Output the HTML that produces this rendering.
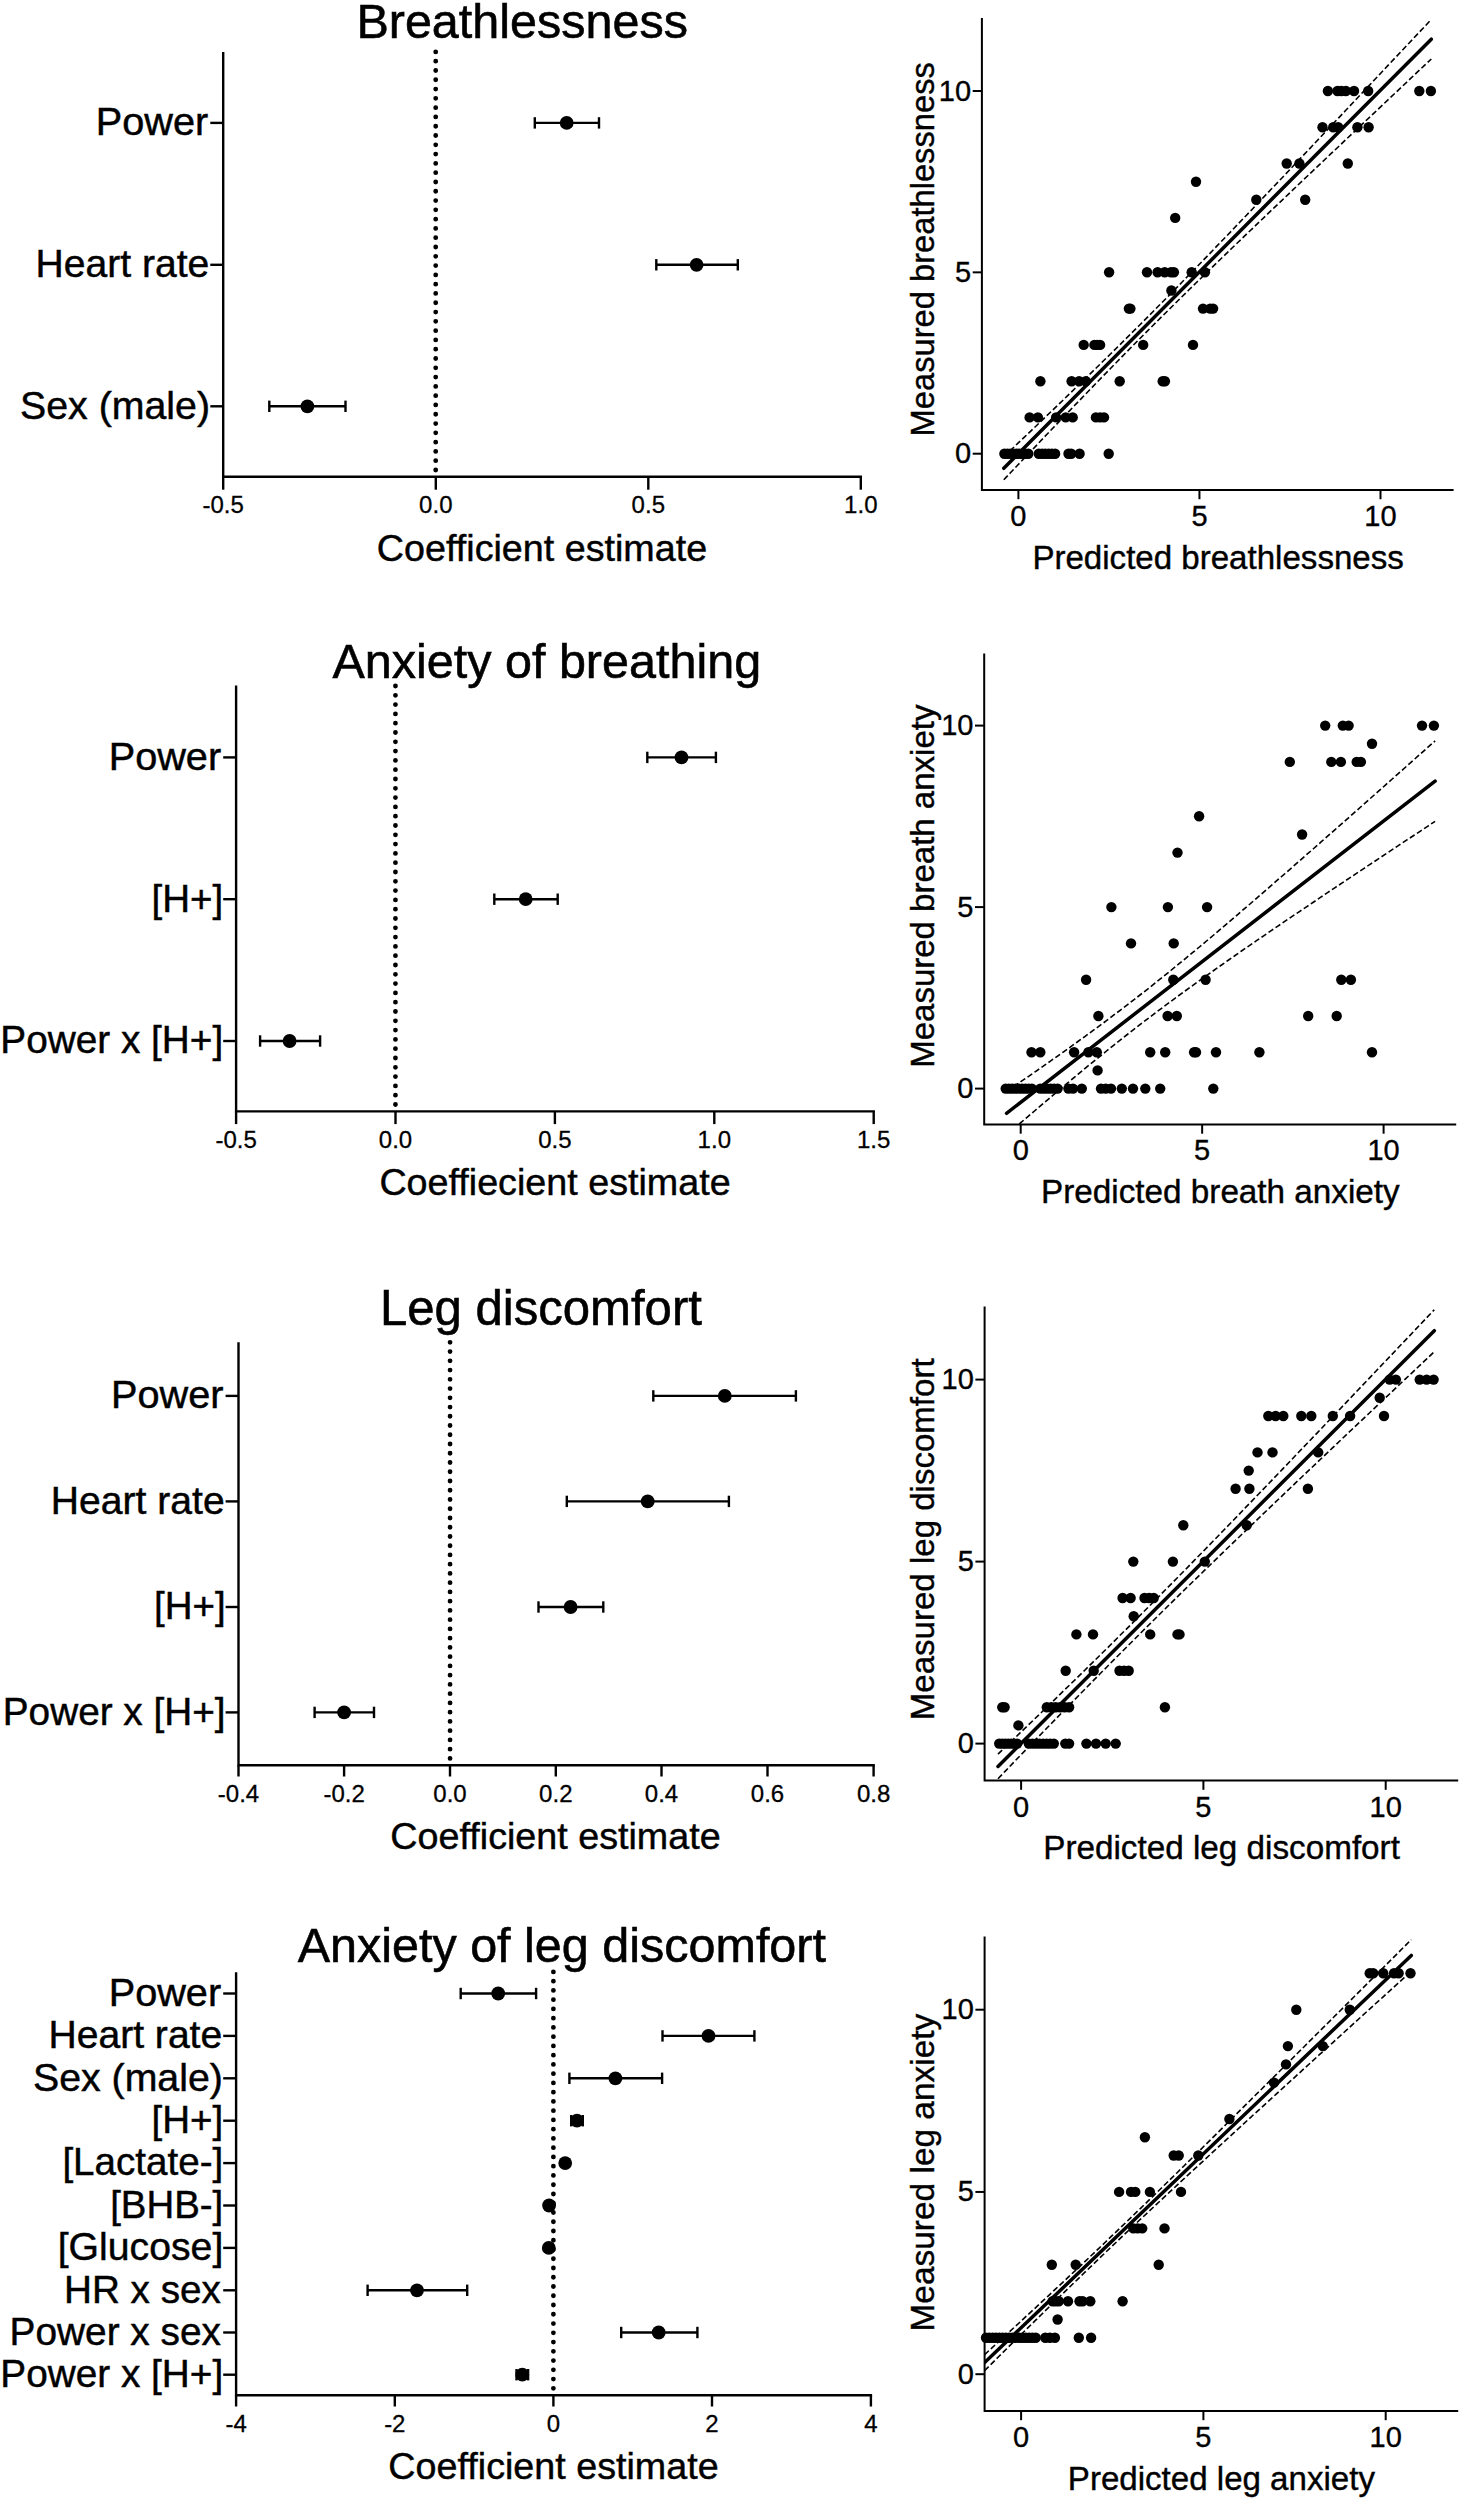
<!DOCTYPE html>
<html lang="en"><head><meta charset="utf-8"><title>Figure</title>
<style>
html,body{margin:0;padding:0;background:#fff;}
body{width:1462px;height:2500px;overflow:hidden;}
svg{display:block;font-family:'Liberation Sans', sans-serif;fill:#000;}
</style></head><body>
<svg width="1462" height="2500" viewBox="0 0 1462 2500">
<rect width="1462" height="2500" fill="#fff"/>
<g>
<text x="522.20" y="38.20" font-size="48.5" text-anchor="middle" stroke="#000" stroke-width="0.58" >Breathlessness</text>
<path d="M223.20 52.00V476.80H862.00" fill="none" stroke="#000" stroke-width="2.4" stroke-linejoin="miter"/>
<line x1="223.20" y1="476.80" x2="223.20" y2="489.70" stroke="#000" stroke-width="2.4" />
<text x="223.20" y="513.10" font-size="24" text-anchor="middle" stroke="#000" stroke-width="0.29" >-0.5</text>
<line x1="435.80" y1="476.80" x2="435.80" y2="489.70" stroke="#000" stroke-width="2.4" />
<text x="435.80" y="513.10" font-size="24" text-anchor="middle" stroke="#000" stroke-width="0.29" >0.0</text>
<line x1="648.30" y1="476.80" x2="648.30" y2="489.70" stroke="#000" stroke-width="2.4" />
<text x="648.30" y="513.10" font-size="24" text-anchor="middle" stroke="#000" stroke-width="0.29" >0.5</text>
<line x1="860.80" y1="476.80" x2="860.80" y2="489.70" stroke="#000" stroke-width="2.4" />
<text x="860.80" y="513.10" font-size="24" text-anchor="middle" stroke="#000" stroke-width="0.29" >1.0</text>
<text x="542.00" y="560.80" font-size="37.7" text-anchor="middle" stroke="#000" stroke-width="0.45" >Coefficient estimate</text>
<line x1="435.70" y1="51.90" x2="435.70" y2="471.00" stroke="#000" stroke-width="4.8" stroke-linecap="round" stroke-dasharray="0 9.2911"/>
<line x1="210.30" y1="122.90" x2="223.20" y2="122.90" stroke="#000" stroke-width="2.4" />
<text x="208.26" y="135.20" font-size="39.7" text-anchor="end" stroke="#000" stroke-width="0.48" >Power</text>
<line x1="534.80" y1="122.90" x2="599.00" y2="122.90" stroke="#000" stroke-width="2.4" />
<line x1="534.80" y1="117.20" x2="534.80" y2="128.60" stroke="#000" stroke-width="2.4" />
<line x1="599.00" y1="117.20" x2="599.00" y2="128.60" stroke="#000" stroke-width="2.4" />
<circle cx="566.70" cy="122.90" r="6.9"/>
<line x1="210.30" y1="264.80" x2="223.20" y2="264.80" stroke="#000" stroke-width="2.4" />
<text x="209.33" y="277.10" font-size="39.1" text-anchor="end" stroke="#000" stroke-width="0.47" >Heart rate</text>
<line x1="656.30" y1="264.80" x2="737.80" y2="264.80" stroke="#000" stroke-width="2.4" />
<line x1="656.30" y1="259.10" x2="656.30" y2="270.50" stroke="#000" stroke-width="2.4" />
<line x1="737.80" y1="259.10" x2="737.80" y2="270.50" stroke="#000" stroke-width="2.4" />
<circle cx="696.60" cy="264.80" r="6.9"/>
<line x1="210.30" y1="406.30" x2="223.20" y2="406.30" stroke="#000" stroke-width="2.4" />
<text x="210.02" y="418.60" font-size="39.3" text-anchor="end" stroke="#000" stroke-width="0.47" >Sex (male)</text>
<line x1="269.30" y1="406.30" x2="345.50" y2="406.30" stroke="#000" stroke-width="2.4" />
<line x1="269.30" y1="400.60" x2="269.30" y2="412.00" stroke="#000" stroke-width="2.4" />
<line x1="345.50" y1="400.60" x2="345.50" y2="412.00" stroke="#000" stroke-width="2.4" />
<circle cx="307.40" cy="406.30" r="6.9"/>
</g>
<g>
<text x="546.80" y="677.90" font-size="48.5" text-anchor="middle" stroke="#000" stroke-width="0.58" >Anxiety of breathing</text>
<path d="M236.10 685.60V1111.40H874.90" fill="none" stroke="#000" stroke-width="2.4" stroke-linejoin="miter"/>
<line x1="236.10" y1="1111.40" x2="236.10" y2="1124.10" stroke="#000" stroke-width="2.4" />
<text x="236.10" y="1147.70" font-size="24" text-anchor="middle" stroke="#000" stroke-width="0.29" >-0.5</text>
<line x1="395.50" y1="1111.40" x2="395.50" y2="1124.10" stroke="#000" stroke-width="2.4" />
<text x="395.50" y="1147.70" font-size="24" text-anchor="middle" stroke="#000" stroke-width="0.29" >0.0</text>
<line x1="554.90" y1="1111.40" x2="554.90" y2="1124.10" stroke="#000" stroke-width="2.4" />
<text x="554.90" y="1147.70" font-size="24" text-anchor="middle" stroke="#000" stroke-width="0.29" >0.5</text>
<line x1="714.30" y1="1111.40" x2="714.30" y2="1124.10" stroke="#000" stroke-width="2.4" />
<text x="714.30" y="1147.70" font-size="24" text-anchor="middle" stroke="#000" stroke-width="0.29" >1.0</text>
<line x1="873.70" y1="1111.40" x2="873.70" y2="1124.10" stroke="#000" stroke-width="2.4" />
<text x="873.70" y="1147.70" font-size="24" text-anchor="middle" stroke="#000" stroke-width="0.29" >1.5</text>
<text x="555.00" y="1195.40" font-size="37.7" text-anchor="middle" stroke="#000" stroke-width="0.45" >Coeffiecient estimate</text>
<line x1="395.45" y1="686.00" x2="395.45" y2="1105.50" stroke="#000" stroke-width="4.8" stroke-linecap="round" stroke-dasharray="0 9.3000"/>
<line x1="223.20" y1="757.40" x2="236.10" y2="757.40" stroke="#000" stroke-width="2.4" />
<text x="221.16" y="769.70" font-size="39.7" text-anchor="end" stroke="#000" stroke-width="0.48" >Power</text>
<line x1="647.30" y1="757.40" x2="715.90" y2="757.40" stroke="#000" stroke-width="2.4" />
<line x1="647.30" y1="751.70" x2="647.30" y2="763.10" stroke="#000" stroke-width="2.4" />
<line x1="715.90" y1="751.70" x2="715.90" y2="763.10" stroke="#000" stroke-width="2.4" />
<circle cx="681.50" cy="757.40" r="6.9"/>
<line x1="223.20" y1="899.20" x2="236.10" y2="899.20" stroke="#000" stroke-width="2.4" />
<text x="223.23" y="911.50" font-size="38.5" text-anchor="end" stroke="#000" stroke-width="0.46" >[H+]</text>
<line x1="494.30" y1="899.20" x2="557.70" y2="899.20" stroke="#000" stroke-width="2.4" />
<line x1="494.30" y1="893.50" x2="494.30" y2="904.90" stroke="#000" stroke-width="2.4" />
<line x1="557.70" y1="893.50" x2="557.70" y2="904.90" stroke="#000" stroke-width="2.4" />
<circle cx="525.70" cy="899.20" r="6.9"/>
<line x1="223.20" y1="1041.00" x2="236.10" y2="1041.00" stroke="#000" stroke-width="2.4" />
<text x="223.25" y="1053.30" font-size="38.75" text-anchor="end" stroke="#000" stroke-width="0.47" >Power x [H+]</text>
<line x1="260.10" y1="1041.00" x2="320.10" y2="1041.00" stroke="#000" stroke-width="2.4" />
<line x1="260.10" y1="1035.30" x2="260.10" y2="1046.70" stroke="#000" stroke-width="2.4" />
<line x1="320.10" y1="1035.30" x2="320.10" y2="1046.70" stroke="#000" stroke-width="2.4" />
<circle cx="289.60" cy="1041.00" r="6.9"/>
</g>
<g>
<text x="540.90" y="1325.40" font-size="49.1" text-anchor="middle" stroke="#000" stroke-width="0.59" >Leg discomfort</text>
<path d="M238.50 1342.30V1765.20H874.80" fill="none" stroke="#000" stroke-width="2.4" stroke-linejoin="miter"/>
<line x1="238.50" y1="1765.20" x2="238.50" y2="1776.50" stroke="#000" stroke-width="2.4" />
<text x="238.50" y="1801.50" font-size="24" text-anchor="middle" stroke="#000" stroke-width="0.29" >-0.4</text>
<line x1="344.10" y1="1765.20" x2="344.10" y2="1776.50" stroke="#000" stroke-width="2.4" />
<text x="344.10" y="1801.50" font-size="24" text-anchor="middle" stroke="#000" stroke-width="0.29" >-0.2</text>
<line x1="450.00" y1="1765.20" x2="450.00" y2="1776.50" stroke="#000" stroke-width="2.4" />
<text x="450.00" y="1801.50" font-size="24" text-anchor="middle" stroke="#000" stroke-width="0.29" >0.0</text>
<line x1="555.80" y1="1765.20" x2="555.80" y2="1776.50" stroke="#000" stroke-width="2.4" />
<text x="555.80" y="1801.50" font-size="24" text-anchor="middle" stroke="#000" stroke-width="0.29" >0.2</text>
<line x1="661.50" y1="1765.20" x2="661.50" y2="1776.50" stroke="#000" stroke-width="2.4" />
<text x="661.50" y="1801.50" font-size="24" text-anchor="middle" stroke="#000" stroke-width="0.29" >0.4</text>
<line x1="767.50" y1="1765.20" x2="767.50" y2="1776.50" stroke="#000" stroke-width="2.4" />
<text x="767.50" y="1801.50" font-size="24" text-anchor="middle" stroke="#000" stroke-width="0.29" >0.6</text>
<line x1="873.60" y1="1765.20" x2="873.60" y2="1776.50" stroke="#000" stroke-width="2.4" />
<text x="873.60" y="1801.50" font-size="24" text-anchor="middle" stroke="#000" stroke-width="0.29" >0.8</text>
<text x="555.50" y="1849.20" font-size="37.7" text-anchor="middle" stroke="#000" stroke-width="0.45" >Coefficient estimate</text>
<line x1="450.05" y1="1342.30" x2="450.05" y2="1759.40" stroke="#000" stroke-width="4.8" stroke-linecap="round" stroke-dasharray="0 9.2467"/>
<line x1="225.60" y1="1395.90" x2="238.50" y2="1395.90" stroke="#000" stroke-width="2.4" />
<text x="223.56" y="1408.20" font-size="39.7" text-anchor="end" stroke="#000" stroke-width="0.48" >Power</text>
<line x1="653.30" y1="1395.90" x2="795.90" y2="1395.90" stroke="#000" stroke-width="2.4" />
<line x1="653.30" y1="1390.20" x2="653.30" y2="1401.60" stroke="#000" stroke-width="2.4" />
<line x1="795.90" y1="1390.20" x2="795.90" y2="1401.60" stroke="#000" stroke-width="2.4" />
<circle cx="724.80" cy="1395.90" r="6.9"/>
<line x1="225.60" y1="1501.40" x2="238.50" y2="1501.40" stroke="#000" stroke-width="2.4" />
<text x="224.63" y="1513.70" font-size="39.1" text-anchor="end" stroke="#000" stroke-width="0.47" >Heart rate</text>
<line x1="566.80" y1="1501.40" x2="728.90" y2="1501.40" stroke="#000" stroke-width="2.4" />
<line x1="566.80" y1="1495.70" x2="566.80" y2="1507.10" stroke="#000" stroke-width="2.4" />
<line x1="728.90" y1="1495.70" x2="728.90" y2="1507.10" stroke="#000" stroke-width="2.4" />
<circle cx="647.70" cy="1501.40" r="6.9"/>
<line x1="225.60" y1="1607.00" x2="238.50" y2="1607.00" stroke="#000" stroke-width="2.4" />
<text x="225.63" y="1619.30" font-size="38.5" text-anchor="end" stroke="#000" stroke-width="0.46" >[H+]</text>
<line x1="538.50" y1="1607.00" x2="603.30" y2="1607.00" stroke="#000" stroke-width="2.4" />
<line x1="538.50" y1="1601.30" x2="538.50" y2="1612.70" stroke="#000" stroke-width="2.4" />
<line x1="603.30" y1="1601.30" x2="603.30" y2="1612.70" stroke="#000" stroke-width="2.4" />
<circle cx="570.60" cy="1607.00" r="6.9"/>
<line x1="225.60" y1="1712.40" x2="238.50" y2="1712.40" stroke="#000" stroke-width="2.4" />
<text x="225.65" y="1724.70" font-size="38.75" text-anchor="end" stroke="#000" stroke-width="0.47" >Power x [H+]</text>
<line x1="314.60" y1="1712.40" x2="374.00" y2="1712.40" stroke="#000" stroke-width="2.4" />
<line x1="314.60" y1="1706.70" x2="314.60" y2="1718.10" stroke="#000" stroke-width="2.4" />
<line x1="374.00" y1="1706.70" x2="374.00" y2="1718.10" stroke="#000" stroke-width="2.4" />
<circle cx="344.10" cy="1712.40" r="6.9"/>
</g>
<g>
<text x="561.80" y="1961.60" font-size="48.5" text-anchor="middle" stroke="#000" stroke-width="0.58" >Anxiety of leg discomfort</text>
<path d="M236.10 1972.30V2395.20H872.10" fill="none" stroke="#000" stroke-width="2.4" stroke-linejoin="miter"/>
<line x1="236.10" y1="2395.20" x2="236.10" y2="2406.50" stroke="#000" stroke-width="2.4" />
<text x="236.10" y="2431.50" font-size="24" text-anchor="middle" stroke="#000" stroke-width="0.29" >-4</text>
<line x1="394.80" y1="2395.20" x2="394.80" y2="2406.50" stroke="#000" stroke-width="2.4" />
<text x="394.80" y="2431.50" font-size="24" text-anchor="middle" stroke="#000" stroke-width="0.29" >-2</text>
<line x1="553.40" y1="2395.20" x2="553.40" y2="2406.50" stroke="#000" stroke-width="2.4" />
<text x="553.40" y="2431.50" font-size="24" text-anchor="middle" stroke="#000" stroke-width="0.29" >0</text>
<line x1="712.00" y1="2395.20" x2="712.00" y2="2406.50" stroke="#000" stroke-width="2.4" />
<text x="712.00" y="2431.50" font-size="24" text-anchor="middle" stroke="#000" stroke-width="0.29" >2</text>
<line x1="870.90" y1="2395.20" x2="870.90" y2="2406.50" stroke="#000" stroke-width="2.4" />
<text x="870.90" y="2431.50" font-size="24" text-anchor="middle" stroke="#000" stroke-width="0.29" >4</text>
<text x="553.50" y="2479.20" font-size="37.7" text-anchor="middle" stroke="#000" stroke-width="0.45" >Coefficient estimate</text>
<line x1="553.40" y1="1971.90" x2="553.40" y2="2389.30" stroke="#000" stroke-width="4.8" stroke-linecap="round" stroke-dasharray="0 9.2533"/>
<line x1="223.20" y1="1993.50" x2="236.10" y2="1993.50" stroke="#000" stroke-width="2.4" />
<text x="221.16" y="2005.80" font-size="39.7" text-anchor="end" stroke="#000" stroke-width="0.48" >Power</text>
<line x1="460.70" y1="1993.50" x2="536.10" y2="1993.50" stroke="#000" stroke-width="2.4" />
<line x1="460.70" y1="1987.80" x2="460.70" y2="1999.20" stroke="#000" stroke-width="2.4" />
<line x1="536.10" y1="1987.80" x2="536.10" y2="1999.20" stroke="#000" stroke-width="2.4" />
<circle cx="498.20" cy="1993.50" r="6.9"/>
<line x1="223.20" y1="2035.90" x2="236.10" y2="2035.90" stroke="#000" stroke-width="2.4" />
<text x="222.23" y="2048.20" font-size="39.1" text-anchor="end" stroke="#000" stroke-width="0.47" >Heart rate</text>
<line x1="662.50" y1="2035.90" x2="754.40" y2="2035.90" stroke="#000" stroke-width="2.4" />
<line x1="662.50" y1="2030.20" x2="662.50" y2="2041.60" stroke="#000" stroke-width="2.4" />
<line x1="754.40" y1="2030.20" x2="754.40" y2="2041.60" stroke="#000" stroke-width="2.4" />
<circle cx="708.50" cy="2035.90" r="6.9"/>
<line x1="223.20" y1="2078.30" x2="236.10" y2="2078.30" stroke="#000" stroke-width="2.4" />
<text x="222.92" y="2090.60" font-size="39.3" text-anchor="end" stroke="#000" stroke-width="0.47" >Sex (male)</text>
<line x1="569.40" y1="2078.30" x2="662.10" y2="2078.30" stroke="#000" stroke-width="2.4" />
<line x1="569.40" y1="2072.60" x2="569.40" y2="2084.00" stroke="#000" stroke-width="2.4" />
<line x1="662.10" y1="2072.60" x2="662.10" y2="2084.00" stroke="#000" stroke-width="2.4" />
<circle cx="615.40" cy="2078.30" r="6.9"/>
<line x1="223.20" y1="2120.70" x2="236.10" y2="2120.70" stroke="#000" stroke-width="2.4" />
<text x="223.23" y="2133.00" font-size="38.5" text-anchor="end" stroke="#000" stroke-width="0.46" >[H+]</text>
<line x1="571.20" y1="2120.70" x2="582.80" y2="2120.70" stroke="#000" stroke-width="2.4" />
<line x1="571.20" y1="2115.00" x2="571.20" y2="2126.40" stroke="#000" stroke-width="2.4" />
<line x1="582.80" y1="2115.00" x2="582.80" y2="2126.40" stroke="#000" stroke-width="2.4" />
<circle cx="577.00" cy="2120.70" r="6.9"/>
<line x1="223.20" y1="2163.10" x2="236.10" y2="2163.10" stroke="#000" stroke-width="2.4" />
<text x="223.24" y="2175.40" font-size="38.6" text-anchor="end" stroke="#000" stroke-width="0.46" >[Lactate-]</text>
<circle cx="565.20" cy="2163.10" r="6.9"/>
<line x1="223.20" y1="2205.50" x2="236.10" y2="2205.50" stroke="#000" stroke-width="2.4" />
<text x="223.22" y="2217.80" font-size="38.4" text-anchor="end" stroke="#000" stroke-width="0.46" >[BHB-]</text>
<circle cx="549.10" cy="2205.50" r="6.9"/>
<line x1="223.20" y1="2247.90" x2="236.10" y2="2247.90" stroke="#000" stroke-width="2.4" />
<text x="223.29" y="2260.20" font-size="39.2" text-anchor="end" stroke="#000" stroke-width="0.47" >[Glucose]</text>
<circle cx="548.80" cy="2247.90" r="6.9"/>
<line x1="223.20" y1="2290.30" x2="236.10" y2="2290.30" stroke="#000" stroke-width="2.4" />
<text x="220.89" y="2302.60" font-size="38.7" text-anchor="end" stroke="#000" stroke-width="0.46" >HR x sex</text>
<line x1="367.60" y1="2290.30" x2="467.20" y2="2290.30" stroke="#000" stroke-width="2.4" />
<line x1="367.60" y1="2284.60" x2="367.60" y2="2296.00" stroke="#000" stroke-width="2.4" />
<line x1="467.20" y1="2284.60" x2="467.20" y2="2296.00" stroke="#000" stroke-width="2.4" />
<circle cx="417.00" cy="2290.30" r="6.9"/>
<line x1="223.20" y1="2332.50" x2="236.10" y2="2332.50" stroke="#000" stroke-width="2.4" />
<text x="220.90" y="2344.80" font-size="38.8" text-anchor="end" stroke="#000" stroke-width="0.47" >Power x sex</text>
<line x1="621.20" y1="2332.50" x2="697.40" y2="2332.50" stroke="#000" stroke-width="2.4" />
<line x1="621.20" y1="2326.80" x2="621.20" y2="2338.20" stroke="#000" stroke-width="2.4" />
<line x1="697.40" y1="2326.80" x2="697.40" y2="2338.20" stroke="#000" stroke-width="2.4" />
<circle cx="658.70" cy="2332.50" r="6.9"/>
<line x1="223.20" y1="2374.70" x2="236.10" y2="2374.70" stroke="#000" stroke-width="2.4" />
<text x="223.25" y="2387.00" font-size="38.75" text-anchor="end" stroke="#000" stroke-width="0.47" >Power x [H+]</text>
<line x1="516.50" y1="2374.70" x2="528.10" y2="2374.70" stroke="#000" stroke-width="2.4" />
<line x1="516.50" y1="2369.00" x2="516.50" y2="2380.40" stroke="#000" stroke-width="2.4" />
<line x1="528.10" y1="2369.00" x2="528.10" y2="2380.40" stroke="#000" stroke-width="2.4" />
<circle cx="522.30" cy="2374.70" r="6.9"/>
</g>
<g>
<path d="M981.90 18.10V490.00H1453.60" fill="none" stroke="#000" stroke-width="2.0"/>
<line x1="1018.40" y1="490.00" x2="1018.40" y2="499.20" stroke="#000" stroke-width="2.0" />
<text x="1018.40" y="525.90" font-size="29.0" text-anchor="middle" stroke="#000" stroke-width="0.35" >0</text>
<line x1="972.70" y1="453.70" x2="981.90" y2="453.70" stroke="#000" stroke-width="2.0" />
<text x="971.10" y="463.20" font-size="29.0" text-anchor="end" stroke="#000" stroke-width="0.35" >0</text>
<line x1="1199.45" y1="490.00" x2="1199.45" y2="499.20" stroke="#000" stroke-width="2.0" />
<text x="1199.45" y="525.90" font-size="29.0" text-anchor="middle" stroke="#000" stroke-width="0.35" >5</text>
<line x1="972.70" y1="272.35" x2="981.90" y2="272.35" stroke="#000" stroke-width="2.0" />
<text x="971.10" y="281.85" font-size="29.0" text-anchor="end" stroke="#000" stroke-width="0.35" >5</text>
<line x1="1380.50" y1="490.00" x2="1380.50" y2="499.20" stroke="#000" stroke-width="2.0" />
<text x="1380.50" y="525.90" font-size="29.0" text-anchor="middle" stroke="#000" stroke-width="0.35" >10</text>
<line x1="972.70" y1="91.00" x2="981.90" y2="91.00" stroke="#000" stroke-width="2.0" />
<text x="971.10" y="100.50" font-size="29.0" text-anchor="end" stroke="#000" stroke-width="0.35" >10</text>
<text x="1218.10" y="568.80" font-size="33.1" text-anchor="middle" stroke="#000" stroke-width="0.40" >Predicted breathlessness</text>
<text transform="translate(933.50 249.30) rotate(-90)" font-size="32.7" text-anchor="middle" stroke="#000" stroke-width="0.39">Measured breathlessness</text>
<circle cx="1327.9" cy="91.0" r="5.2"/>
<circle cx="1337.5" cy="91.0" r="5.2"/>
<circle cx="1341.3" cy="91.0" r="5.2"/>
<circle cx="1345.9" cy="91.0" r="5.2"/>
<circle cx="1354.0" cy="91.0" r="5.2"/>
<circle cx="1368.2" cy="91.0" r="5.2"/>
<circle cx="1419.3" cy="91.0" r="5.2"/>
<circle cx="1430.9" cy="91.0" r="5.2"/>
<circle cx="1322.5" cy="127.3" r="5.2"/>
<circle cx="1333.2" cy="127.3" r="5.2"/>
<circle cx="1338.2" cy="127.3" r="5.2"/>
<circle cx="1357.4" cy="127.3" r="5.2"/>
<circle cx="1368.6" cy="127.3" r="5.2"/>
<circle cx="1286.7" cy="163.5" r="5.2"/>
<circle cx="1299.4" cy="163.5" r="5.2"/>
<circle cx="1347.8" cy="163.5" r="5.2"/>
<circle cx="1196.0" cy="181.7" r="5.2"/>
<circle cx="1256.3" cy="199.8" r="5.2"/>
<circle cx="1305.2" cy="199.8" r="5.2"/>
<circle cx="1175.2" cy="217.9" r="5.2"/>
<circle cx="1109.1" cy="272.3" r="5.2"/>
<circle cx="1147.0" cy="272.3" r="5.2"/>
<circle cx="1157.6" cy="272.3" r="5.2"/>
<circle cx="1164.7" cy="272.3" r="5.2"/>
<circle cx="1171.0" cy="272.3" r="5.2"/>
<circle cx="1173.9" cy="272.3" r="5.2"/>
<circle cx="1191.7" cy="272.3" r="5.2"/>
<circle cx="1204.9" cy="272.3" r="5.2"/>
<circle cx="1171.4" cy="290.5" r="5.2"/>
<circle cx="1128.9" cy="308.6" r="5.2"/>
<circle cx="1130.4" cy="308.6" r="5.2"/>
<circle cx="1203.0" cy="308.6" r="5.2"/>
<circle cx="1210.2" cy="308.6" r="5.2"/>
<circle cx="1213.1" cy="308.6" r="5.2"/>
<circle cx="1083.7" cy="344.9" r="5.2"/>
<circle cx="1094.4" cy="344.9" r="5.2"/>
<circle cx="1097.2" cy="344.9" r="5.2"/>
<circle cx="1100.1" cy="344.9" r="5.2"/>
<circle cx="1143.2" cy="344.9" r="5.2"/>
<circle cx="1193.0" cy="344.9" r="5.2"/>
<circle cx="1040.4" cy="381.2" r="5.2"/>
<circle cx="1071.6" cy="381.2" r="5.2"/>
<circle cx="1079.1" cy="381.2" r="5.2"/>
<circle cx="1085.8" cy="381.2" r="5.2"/>
<circle cx="1119.7" cy="381.2" r="5.2"/>
<circle cx="1162.7" cy="381.2" r="5.2"/>
<circle cx="1164.9" cy="381.2" r="5.2"/>
<circle cx="1029.6" cy="417.4" r="5.2"/>
<circle cx="1037.9" cy="417.4" r="5.2"/>
<circle cx="1056.1" cy="417.4" r="5.2"/>
<circle cx="1065.7" cy="417.4" r="5.2"/>
<circle cx="1072.7" cy="417.4" r="5.2"/>
<circle cx="1095.9" cy="417.4" r="5.2"/>
<circle cx="1100.1" cy="417.4" r="5.2"/>
<circle cx="1104.0" cy="417.4" r="5.2"/>
<circle cx="1004.4" cy="453.7" r="5.2"/>
<circle cx="1007.4" cy="453.7" r="5.2"/>
<circle cx="1010.4" cy="453.7" r="5.2"/>
<circle cx="1013.4" cy="453.7" r="5.2"/>
<circle cx="1016.3" cy="453.7" r="5.2"/>
<circle cx="1019.3" cy="453.7" r="5.2"/>
<circle cx="1022.3" cy="453.7" r="5.2"/>
<circle cx="1025.3" cy="453.7" r="5.2"/>
<circle cx="1028.3" cy="453.7" r="5.2"/>
<circle cx="1038.8" cy="453.7" r="5.2"/>
<circle cx="1042.1" cy="453.7" r="5.2"/>
<circle cx="1045.3" cy="453.7" r="5.2"/>
<circle cx="1048.6" cy="453.7" r="5.2"/>
<circle cx="1051.8" cy="453.7" r="5.2"/>
<circle cx="1055.1" cy="453.7" r="5.2"/>
<circle cx="1068.5" cy="453.7" r="5.2"/>
<circle cx="1071.2" cy="453.7" r="5.2"/>
<circle cx="1079.6" cy="453.7" r="5.2"/>
<circle cx="1108.7" cy="453.7" r="5.2"/>
<clipPath id="c0"><rect x="981.90" y="-1.90" width="471.70" height="491.90"/></clipPath>
<g clip-path="url(#c0)">
<line x1="1003.80" y1="468.30" x2="1431.30" y2="39.20" stroke="#000" stroke-width="3.5" stroke-linecap="round"/>
<polyline points="1003.8,456.8 1010.9,450.0 1018.0,443.2 1025.2,436.4 1032.3,429.6 1039.4,422.8 1046.5,416.0 1053.7,409.1 1060.8,402.3 1067.9,395.4 1075.0,388.5 1082.2,381.6 1089.3,374.7 1096.4,367.8 1103.5,360.8 1110.7,353.8 1117.8,346.8 1124.9,339.7 1132.0,332.6 1139.2,325.5 1146.3,318.4 1153.4,311.2 1160.5,304.0 1167.7,296.8 1174.8,289.5 1181.9,282.3 1189.0,274.9 1196.2,267.6 1203.3,260.2 1210.4,252.9 1217.5,245.4 1224.7,238.0 1231.8,230.6 1238.9,223.1 1246.0,215.7 1253.2,208.2 1260.3,200.7 1267.4,193.2 1274.5,185.7 1281.7,178.2 1288.8,170.7 1295.9,163.1 1303.0,155.6 1310.2,148.1 1317.3,140.5 1324.4,133.0 1331.5,125.4 1338.7,117.9 1345.8,110.3 1352.9,102.7 1360.0,95.2 1367.2,87.6 1374.3,80.0 1381.4,72.5 1388.5,64.9 1395.7,57.3 1402.8,49.7 1409.9,42.2 1417.0,34.6 1424.2,27.0 1431.3,19.4" fill="none" stroke="#000" stroke-width="1.6" stroke-dasharray="5.7 2.8"/>
<polyline points="1003.8,479.8 1010.9,472.3 1018.0,464.8 1025.2,457.3 1032.3,449.8 1039.4,442.3 1046.5,434.8 1053.7,427.3 1060.8,419.9 1067.9,412.5 1075.0,405.0 1082.2,397.6 1089.3,390.3 1096.4,382.9 1103.5,375.6 1110.7,368.3 1117.8,361.0 1124.9,353.7 1132.0,346.5 1139.2,339.3 1146.3,332.1 1153.4,325.0 1160.5,317.9 1167.7,310.8 1174.8,303.8 1181.9,296.8 1189.0,289.8 1196.2,282.8 1203.3,275.9 1210.4,269.0 1217.5,262.1 1224.7,255.2 1231.8,248.3 1238.9,241.5 1246.0,234.6 1253.2,227.8 1260.3,221.0 1267.4,214.2 1274.5,207.4 1281.7,200.6 1288.8,193.8 1295.9,187.0 1303.0,180.2 1310.2,173.5 1317.3,166.7 1324.4,160.0 1331.5,153.2 1338.7,146.5 1345.8,139.7 1352.9,133.0 1360.0,126.3 1367.2,119.5 1374.3,112.8 1381.4,106.1 1388.5,99.3 1395.7,92.6 1402.8,85.9 1409.9,79.2 1417.0,72.4 1424.2,65.7 1431.3,59.0" fill="none" stroke="#000" stroke-width="1.6" stroke-dasharray="5.7 2.8"/>
</g>
</g>
<g>
<path d="M984.20 653.50V1124.50H1456.20" fill="none" stroke="#000" stroke-width="2.0"/>
<line x1="1020.70" y1="1124.50" x2="1020.70" y2="1133.70" stroke="#000" stroke-width="2.0" />
<text x="1020.70" y="1160.40" font-size="29.0" text-anchor="middle" stroke="#000" stroke-width="0.35" >0</text>
<line x1="975.00" y1="1088.60" x2="984.20" y2="1088.60" stroke="#000" stroke-width="2.0" />
<text x="973.40" y="1098.10" font-size="29.0" text-anchor="end" stroke="#000" stroke-width="0.35" >0</text>
<line x1="1202.15" y1="1124.50" x2="1202.15" y2="1133.70" stroke="#000" stroke-width="2.0" />
<text x="1202.15" y="1160.40" font-size="29.0" text-anchor="middle" stroke="#000" stroke-width="0.35" >5</text>
<line x1="975.00" y1="907.10" x2="984.20" y2="907.10" stroke="#000" stroke-width="2.0" />
<text x="973.40" y="916.60" font-size="29.0" text-anchor="end" stroke="#000" stroke-width="0.35" >5</text>
<line x1="1383.60" y1="1124.50" x2="1383.60" y2="1133.70" stroke="#000" stroke-width="2.0" />
<text x="1383.60" y="1160.40" font-size="29.0" text-anchor="middle" stroke="#000" stroke-width="0.35" >10</text>
<line x1="975.00" y1="725.60" x2="984.20" y2="725.60" stroke="#000" stroke-width="2.0" />
<text x="973.40" y="735.10" font-size="29.0" text-anchor="end" stroke="#000" stroke-width="0.35" >10</text>
<text x="1220.40" y="1203.30" font-size="33.25" text-anchor="middle" stroke="#000" stroke-width="0.40" >Predicted breath anxiety</text>
<text transform="translate(933.80 886.20) rotate(-90)" font-size="33.0" text-anchor="middle" stroke="#000" stroke-width="0.40">Measured breath anxiety</text>
<circle cx="1325.2" cy="725.6" r="5.2"/>
<circle cx="1342.8" cy="725.6" r="5.2"/>
<circle cx="1348.6" cy="725.6" r="5.2"/>
<circle cx="1422.0" cy="725.6" r="5.2"/>
<circle cx="1433.9" cy="725.6" r="5.2"/>
<circle cx="1372.0" cy="743.8" r="5.2"/>
<circle cx="1289.8" cy="761.9" r="5.2"/>
<circle cx="1331.3" cy="761.9" r="5.2"/>
<circle cx="1340.9" cy="761.9" r="5.2"/>
<circle cx="1356.7" cy="761.9" r="5.2"/>
<circle cx="1360.9" cy="761.9" r="5.2"/>
<circle cx="1199.1" cy="816.3" r="5.2"/>
<circle cx="1302.1" cy="834.5" r="5.2"/>
<circle cx="1177.5" cy="852.6" r="5.2"/>
<circle cx="1111.4" cy="907.1" r="5.2"/>
<circle cx="1167.9" cy="907.1" r="5.2"/>
<circle cx="1207.1" cy="907.1" r="5.2"/>
<circle cx="1131.0" cy="943.4" r="5.2"/>
<circle cx="1173.7" cy="943.4" r="5.2"/>
<circle cx="1086.1" cy="979.7" r="5.2"/>
<circle cx="1173.3" cy="979.7" r="5.2"/>
<circle cx="1205.6" cy="979.7" r="5.2"/>
<circle cx="1341.3" cy="979.7" r="5.2"/>
<circle cx="1350.9" cy="979.7" r="5.2"/>
<circle cx="1098.4" cy="1016.0" r="5.2"/>
<circle cx="1167.6" cy="1016.0" r="5.2"/>
<circle cx="1176.8" cy="1016.0" r="5.2"/>
<circle cx="1308.2" cy="1016.0" r="5.2"/>
<circle cx="1336.7" cy="1016.0" r="5.2"/>
<circle cx="1031.5" cy="1052.3" r="5.2"/>
<circle cx="1040.3" cy="1052.3" r="5.2"/>
<circle cx="1074.1" cy="1052.3" r="5.2"/>
<circle cx="1088.4" cy="1052.3" r="5.2"/>
<circle cx="1096.8" cy="1052.3" r="5.2"/>
<circle cx="1150.2" cy="1052.3" r="5.2"/>
<circle cx="1165.2" cy="1052.3" r="5.2"/>
<circle cx="1194.1" cy="1052.3" r="5.2"/>
<circle cx="1196.0" cy="1052.3" r="5.2"/>
<circle cx="1216.0" cy="1052.3" r="5.2"/>
<circle cx="1259.4" cy="1052.3" r="5.2"/>
<circle cx="1372.0" cy="1052.3" r="5.2"/>
<circle cx="1097.6" cy="1070.4" r="5.2"/>
<circle cx="1005.7" cy="1088.6" r="5.2"/>
<circle cx="1009.0" cy="1088.6" r="5.2"/>
<circle cx="1012.2" cy="1088.6" r="5.2"/>
<circle cx="1015.5" cy="1088.6" r="5.2"/>
<circle cx="1018.8" cy="1088.6" r="5.2"/>
<circle cx="1022.1" cy="1088.6" r="5.2"/>
<circle cx="1025.4" cy="1088.6" r="5.2"/>
<circle cx="1028.6" cy="1088.6" r="5.2"/>
<circle cx="1031.9" cy="1088.6" r="5.2"/>
<circle cx="1040.3" cy="1088.6" r="5.2"/>
<circle cx="1043.8" cy="1088.6" r="5.2"/>
<circle cx="1047.2" cy="1088.6" r="5.2"/>
<circle cx="1050.7" cy="1088.6" r="5.2"/>
<circle cx="1054.1" cy="1088.6" r="5.2"/>
<circle cx="1057.6" cy="1088.6" r="5.2"/>
<circle cx="1068.4" cy="1088.6" r="5.2"/>
<circle cx="1073.0" cy="1088.6" r="5.2"/>
<circle cx="1081.8" cy="1088.6" r="5.2"/>
<circle cx="1101.0" cy="1088.6" r="5.2"/>
<circle cx="1105.7" cy="1088.6" r="5.2"/>
<circle cx="1111.0" cy="1088.6" r="5.2"/>
<circle cx="1121.8" cy="1088.6" r="5.2"/>
<circle cx="1133.0" cy="1088.6" r="5.2"/>
<circle cx="1145.3" cy="1088.6" r="5.2"/>
<circle cx="1160.2" cy="1088.6" r="5.2"/>
<circle cx="1213.3" cy="1088.6" r="5.2"/>
<clipPath id="c1"><rect x="984.20" y="633.50" width="472.00" height="491.00"/></clipPath>
<g clip-path="url(#c1)">
<line x1="1006.50" y1="1113.30" x2="1435.10" y2="781.10" stroke="#000" stroke-width="3.5" stroke-linecap="round"/>
<polyline points="1006.5,1091.5 1013.6,1086.6 1020.8,1081.7 1027.9,1076.8 1035.1,1071.8 1042.2,1066.9 1049.4,1061.8 1056.5,1056.8 1063.6,1051.8 1070.8,1046.7 1077.9,1041.5 1085.1,1036.4 1092.2,1031.1 1099.4,1025.9 1106.5,1020.6 1113.6,1015.2 1120.8,1009.8 1127.9,1004.4 1135.1,998.8 1142.2,993.3 1149.4,987.7 1156.5,982.0 1163.7,976.3 1170.8,970.5 1177.9,964.7 1185.1,958.8 1192.2,952.9 1199.4,947.0 1206.5,941.0 1213.7,935.0 1220.8,928.9 1227.9,922.9 1235.1,916.8 1242.2,910.6 1249.4,904.5 1256.5,898.3 1263.7,892.1 1270.8,885.9 1277.9,879.7 1285.1,873.5 1292.2,867.3 1299.4,861.0 1306.5,854.7 1313.7,848.5 1320.8,842.2 1327.9,835.9 1335.1,829.6 1342.2,823.3 1349.4,817.0 1356.5,810.7 1363.7,804.3 1370.8,798.0 1378.0,791.7 1385.1,785.3 1392.2,779.0 1399.4,772.6 1406.5,766.3 1413.7,759.9 1420.8,753.6 1428.0,747.2 1435.1,740.9" fill="none" stroke="#000" stroke-width="1.6" stroke-dasharray="5.7 2.8"/>
<polyline points="1006.5,1135.1 1013.6,1128.9 1020.8,1122.7 1027.9,1116.6 1035.1,1110.5 1042.2,1104.4 1049.4,1098.3 1056.5,1092.3 1063.6,1086.3 1070.8,1080.3 1077.9,1074.3 1085.1,1068.4 1092.2,1062.6 1099.4,1056.8 1106.5,1051.0 1113.6,1045.3 1120.8,1039.6 1127.9,1034.0 1135.1,1028.4 1142.2,1022.9 1149.4,1017.5 1156.5,1012.1 1163.7,1006.7 1170.8,1001.4 1177.9,996.2 1185.1,991.0 1192.2,985.8 1199.4,980.7 1206.5,975.6 1213.7,970.5 1220.8,965.5 1227.9,960.5 1235.1,955.5 1242.2,950.5 1249.4,945.6 1256.5,940.7 1263.7,935.8 1270.8,930.9 1277.9,926.1 1285.1,921.2 1292.2,916.4 1299.4,911.6 1306.5,906.8 1313.7,902.0 1320.8,897.2 1327.9,892.4 1335.1,887.6 1342.2,882.9 1349.4,878.1 1356.5,873.4 1363.7,868.6 1370.8,863.9 1378.0,859.1 1385.1,854.4 1392.2,849.7 1399.4,844.9 1406.5,840.2 1413.7,835.5 1420.8,830.8 1428.0,826.1 1435.1,821.3" fill="none" stroke="#000" stroke-width="1.6" stroke-dasharray="5.7 2.8"/>
</g>
</g>
<g>
<path d="M984.60 1306.50V1780.60H1458.20" fill="none" stroke="#000" stroke-width="2.0"/>
<line x1="1021.10" y1="1780.60" x2="1021.10" y2="1789.80" stroke="#000" stroke-width="2.0" />
<text x="1021.10" y="1816.50" font-size="29.0" text-anchor="middle" stroke="#000" stroke-width="0.35" >0</text>
<line x1="975.40" y1="1743.60" x2="984.60" y2="1743.60" stroke="#000" stroke-width="2.0" />
<text x="973.80" y="1753.10" font-size="29.0" text-anchor="end" stroke="#000" stroke-width="0.35" >0</text>
<line x1="1203.40" y1="1780.60" x2="1203.40" y2="1789.80" stroke="#000" stroke-width="2.0" />
<text x="1203.40" y="1816.50" font-size="29.0" text-anchor="middle" stroke="#000" stroke-width="0.35" >5</text>
<line x1="975.40" y1="1561.60" x2="984.60" y2="1561.60" stroke="#000" stroke-width="2.0" />
<text x="973.80" y="1571.10" font-size="29.0" text-anchor="end" stroke="#000" stroke-width="0.35" >5</text>
<line x1="1385.70" y1="1780.60" x2="1385.70" y2="1789.80" stroke="#000" stroke-width="2.0" />
<text x="1385.70" y="1816.50" font-size="29.0" text-anchor="middle" stroke="#000" stroke-width="0.35" >10</text>
<line x1="975.40" y1="1379.60" x2="984.60" y2="1379.60" stroke="#000" stroke-width="2.0" />
<text x="973.80" y="1389.10" font-size="29.0" text-anchor="end" stroke="#000" stroke-width="0.35" >10</text>
<text x="1221.60" y="1859.40" font-size="33.25" text-anchor="middle" stroke="#000" stroke-width="0.40" >Predicted leg discomfort</text>
<text transform="translate(933.80 1539.30) rotate(-90)" font-size="33.05" text-anchor="middle" stroke="#000" stroke-width="0.40">Measured leg discomfort</text>
<circle cx="1389.7" cy="1379.6" r="5.2"/>
<circle cx="1395.9" cy="1379.6" r="5.2"/>
<circle cx="1419.7" cy="1379.6" r="5.2"/>
<circle cx="1426.6" cy="1379.6" r="5.2"/>
<circle cx="1433.6" cy="1379.6" r="5.2"/>
<circle cx="1379.7" cy="1397.8" r="5.2"/>
<circle cx="1268.3" cy="1416.0" r="5.2"/>
<circle cx="1275.6" cy="1416.0" r="5.2"/>
<circle cx="1283.3" cy="1416.0" r="5.2"/>
<circle cx="1301.3" cy="1416.0" r="5.2"/>
<circle cx="1311.3" cy="1416.0" r="5.2"/>
<circle cx="1332.8" cy="1416.0" r="5.2"/>
<circle cx="1350.1" cy="1416.0" r="5.2"/>
<circle cx="1384.0" cy="1416.0" r="5.2"/>
<circle cx="1257.5" cy="1452.4" r="5.2"/>
<circle cx="1272.5" cy="1452.4" r="5.2"/>
<circle cx="1318.2" cy="1452.4" r="5.2"/>
<circle cx="1248.7" cy="1470.6" r="5.2"/>
<circle cx="1235.6" cy="1488.8" r="5.2"/>
<circle cx="1249.4" cy="1488.8" r="5.2"/>
<circle cx="1307.9" cy="1488.8" r="5.2"/>
<circle cx="1183.3" cy="1525.2" r="5.2"/>
<circle cx="1246.7" cy="1525.2" r="5.2"/>
<circle cx="1133.3" cy="1561.6" r="5.2"/>
<circle cx="1172.9" cy="1561.6" r="5.2"/>
<circle cx="1204.8" cy="1561.6" r="5.2"/>
<circle cx="1122.6" cy="1598.0" r="5.2"/>
<circle cx="1130.6" cy="1598.0" r="5.2"/>
<circle cx="1144.5" cy="1598.0" r="5.2"/>
<circle cx="1149.1" cy="1598.0" r="5.2"/>
<circle cx="1153.7" cy="1598.0" r="5.2"/>
<circle cx="1133.7" cy="1616.2" r="5.2"/>
<circle cx="1076.4" cy="1634.4" r="5.2"/>
<circle cx="1093.0" cy="1634.4" r="5.2"/>
<circle cx="1150.2" cy="1634.4" r="5.2"/>
<circle cx="1177.5" cy="1634.4" r="5.2"/>
<circle cx="1179.5" cy="1634.4" r="5.2"/>
<circle cx="1065.7" cy="1670.8" r="5.2"/>
<circle cx="1093.7" cy="1670.8" r="5.2"/>
<circle cx="1119.5" cy="1670.8" r="5.2"/>
<circle cx="1124.1" cy="1670.8" r="5.2"/>
<circle cx="1128.7" cy="1670.8" r="5.2"/>
<circle cx="1002.3" cy="1707.2" r="5.2"/>
<circle cx="1004.6" cy="1707.2" r="5.2"/>
<circle cx="1046.8" cy="1707.2" r="5.2"/>
<circle cx="1051.3" cy="1707.2" r="5.2"/>
<circle cx="1055.7" cy="1707.2" r="5.2"/>
<circle cx="1060.2" cy="1707.2" r="5.2"/>
<circle cx="1064.6" cy="1707.2" r="5.2"/>
<circle cx="1069.1" cy="1707.2" r="5.2"/>
<circle cx="1164.9" cy="1707.2" r="5.2"/>
<circle cx="1018.4" cy="1725.4" r="5.2"/>
<circle cx="999.2" cy="1743.6" r="5.2"/>
<circle cx="1002.2" cy="1743.6" r="5.2"/>
<circle cx="1005.2" cy="1743.6" r="5.2"/>
<circle cx="1008.2" cy="1743.6" r="5.2"/>
<circle cx="1011.2" cy="1743.6" r="5.2"/>
<circle cx="1014.2" cy="1743.6" r="5.2"/>
<circle cx="1017.2" cy="1743.6" r="5.2"/>
<circle cx="1028.8" cy="1743.6" r="5.2"/>
<circle cx="1032.4" cy="1743.6" r="5.2"/>
<circle cx="1035.9" cy="1743.6" r="5.2"/>
<circle cx="1039.5" cy="1743.6" r="5.2"/>
<circle cx="1043.1" cy="1743.6" r="5.2"/>
<circle cx="1046.7" cy="1743.6" r="5.2"/>
<circle cx="1050.2" cy="1743.6" r="5.2"/>
<circle cx="1053.8" cy="1743.6" r="5.2"/>
<circle cx="1065.3" cy="1743.6" r="5.2"/>
<circle cx="1069.1" cy="1743.6" r="5.2"/>
<circle cx="1086.4" cy="1743.6" r="5.2"/>
<circle cx="1096.0" cy="1743.6" r="5.2"/>
<circle cx="1105.7" cy="1743.6" r="5.2"/>
<circle cx="1115.7" cy="1743.6" r="5.2"/>
<clipPath id="c2"><rect x="984.60" y="1286.50" width="473.60" height="494.10"/></clipPath>
<g clip-path="url(#c2)">
<line x1="998.00" y1="1766.40" x2="1434.30" y2="1330.70" stroke="#000" stroke-width="3.5" stroke-linecap="round"/>
<polyline points="998.0,1754.1 1005.3,1747.1 1012.5,1740.2 1019.8,1733.2 1027.1,1726.2 1034.4,1719.2 1041.6,1712.2 1048.9,1705.1 1056.2,1698.1 1063.4,1691.0 1070.7,1684.0 1078.0,1676.9 1085.3,1669.7 1092.5,1662.6 1099.8,1655.4 1107.1,1648.3 1114.3,1641.1 1121.6,1633.8 1128.9,1626.6 1136.2,1619.3 1143.4,1612.0 1150.7,1604.7 1158.0,1597.4 1165.2,1590.0 1172.5,1582.7 1179.8,1575.3 1187.1,1567.9 1194.3,1560.4 1201.6,1553.0 1208.9,1545.5 1216.2,1538.0 1223.4,1530.5 1230.7,1523.0 1238.0,1515.5 1245.2,1507.9 1252.5,1500.4 1259.8,1492.8 1267.1,1485.3 1274.3,1477.7 1281.6,1470.1 1288.9,1462.5 1296.1,1454.9 1303.4,1447.3 1310.7,1439.7 1318.0,1432.1 1325.2,1424.5 1332.5,1416.8 1339.8,1409.2 1347.0,1401.6 1354.3,1393.9 1361.6,1386.3 1368.9,1378.6 1376.1,1371.0 1383.4,1363.3 1390.7,1355.7 1397.9,1348.0 1405.2,1340.4 1412.5,1332.7 1419.8,1325.0 1427.0,1317.4 1434.3,1309.7" fill="none" stroke="#000" stroke-width="1.6" stroke-dasharray="5.7 2.8"/>
<polyline points="998.0,1778.7 1005.3,1771.1 1012.5,1763.6 1019.8,1756.0 1027.1,1748.5 1034.4,1741.0 1041.6,1733.5 1048.9,1726.0 1056.2,1718.5 1063.4,1711.1 1070.7,1703.6 1078.0,1696.2 1085.3,1688.8 1092.5,1681.4 1099.8,1674.0 1107.1,1666.7 1114.3,1659.4 1121.6,1652.1 1128.9,1644.8 1136.2,1637.5 1143.4,1630.3 1150.7,1623.1 1158.0,1615.9 1165.2,1608.7 1172.5,1601.6 1179.8,1594.4 1187.1,1587.3 1194.3,1580.3 1201.6,1573.2 1208.9,1566.1 1216.2,1559.1 1223.4,1552.1 1230.7,1545.0 1238.0,1538.1 1245.2,1531.1 1252.5,1524.1 1259.8,1517.1 1267.1,1510.2 1274.3,1503.2 1281.6,1496.3 1288.9,1489.3 1296.1,1482.4 1303.4,1475.5 1310.7,1468.6 1318.0,1461.7 1325.2,1454.8 1332.5,1447.9 1339.8,1441.0 1347.0,1434.1 1354.3,1427.2 1361.6,1420.4 1368.9,1413.5 1376.1,1406.6 1383.4,1399.7 1390.7,1392.9 1397.9,1386.0 1405.2,1379.1 1412.5,1372.3 1419.8,1365.4 1427.0,1358.6 1434.3,1351.7" fill="none" stroke="#000" stroke-width="1.6" stroke-dasharray="5.7 2.8"/>
</g>
</g>
<g>
<path d="M984.60 1936.50V2411.00H1458.20" fill="none" stroke="#000" stroke-width="2.0"/>
<line x1="1021.10" y1="2411.00" x2="1021.10" y2="2420.20" stroke="#000" stroke-width="2.0" />
<text x="1021.10" y="2446.90" font-size="29.0" text-anchor="middle" stroke="#000" stroke-width="0.35" >0</text>
<line x1="975.40" y1="2374.20" x2="984.60" y2="2374.20" stroke="#000" stroke-width="2.0" />
<text x="973.80" y="2383.70" font-size="29.0" text-anchor="end" stroke="#000" stroke-width="0.35" >0</text>
<line x1="1203.40" y1="2411.00" x2="1203.40" y2="2420.20" stroke="#000" stroke-width="2.0" />
<text x="1203.40" y="2446.90" font-size="29.0" text-anchor="middle" stroke="#000" stroke-width="0.35" >5</text>
<line x1="975.40" y1="2191.95" x2="984.60" y2="2191.95" stroke="#000" stroke-width="2.0" />
<text x="973.80" y="2201.45" font-size="29.0" text-anchor="end" stroke="#000" stroke-width="0.35" >5</text>
<line x1="1385.70" y1="2411.00" x2="1385.70" y2="2420.20" stroke="#000" stroke-width="2.0" />
<text x="1385.70" y="2446.90" font-size="29.0" text-anchor="middle" stroke="#000" stroke-width="0.35" >10</text>
<line x1="975.40" y1="2009.70" x2="984.60" y2="2009.70" stroke="#000" stroke-width="2.0" />
<text x="973.80" y="2019.20" font-size="29.0" text-anchor="end" stroke="#000" stroke-width="0.35" >10</text>
<text x="1221.40" y="2489.80" font-size="33.1" text-anchor="middle" stroke="#000" stroke-width="0.40" >Predicted leg anxiety</text>
<text transform="translate(933.80 2172.60) rotate(-90)" font-size="33.45" text-anchor="middle" stroke="#000" stroke-width="0.40">Measured leg anxiety</text>
<circle cx="1369.7" cy="1973.2" r="5.2"/>
<circle cx="1373.2" cy="1973.2" r="5.2"/>
<circle cx="1383.2" cy="1973.2" r="5.2"/>
<circle cx="1394.0" cy="1973.2" r="5.2"/>
<circle cx="1398.6" cy="1973.2" r="5.2"/>
<circle cx="1410.5" cy="1973.2" r="5.2"/>
<circle cx="1296.3" cy="2009.7" r="5.2"/>
<circle cx="1349.8" cy="2009.7" r="5.2"/>
<circle cx="1287.9" cy="2046.1" r="5.2"/>
<circle cx="1322.8" cy="2046.1" r="5.2"/>
<circle cx="1286.0" cy="2064.4" r="5.2"/>
<circle cx="1274.0" cy="2082.6" r="5.2"/>
<circle cx="1229.4" cy="2119.0" r="5.2"/>
<circle cx="1144.9" cy="2137.3" r="5.2"/>
<circle cx="1173.7" cy="2155.5" r="5.2"/>
<circle cx="1178.7" cy="2155.5" r="5.2"/>
<circle cx="1198.3" cy="2155.5" r="5.2"/>
<circle cx="1119.1" cy="2191.9" r="5.2"/>
<circle cx="1131.0" cy="2191.9" r="5.2"/>
<circle cx="1135.3" cy="2191.9" r="5.2"/>
<circle cx="1149.9" cy="2191.9" r="5.2"/>
<circle cx="1181.0" cy="2191.9" r="5.2"/>
<circle cx="1133.3" cy="2228.4" r="5.2"/>
<circle cx="1137.6" cy="2228.4" r="5.2"/>
<circle cx="1142.2" cy="2228.4" r="5.2"/>
<circle cx="1164.5" cy="2228.4" r="5.2"/>
<circle cx="1051.8" cy="2264.8" r="5.2"/>
<circle cx="1075.7" cy="2264.8" r="5.2"/>
<circle cx="1158.7" cy="2264.8" r="5.2"/>
<circle cx="1052.6" cy="2301.3" r="5.2"/>
<circle cx="1055.7" cy="2301.3" r="5.2"/>
<circle cx="1058.8" cy="2301.3" r="5.2"/>
<circle cx="1068.0" cy="2301.3" r="5.2"/>
<circle cx="1079.5" cy="2301.3" r="5.2"/>
<circle cx="1082.6" cy="2301.3" r="5.2"/>
<circle cx="1090.3" cy="2301.3" r="5.2"/>
<circle cx="1122.6" cy="2301.3" r="5.2"/>
<circle cx="1057.6" cy="2319.5" r="5.2"/>
<circle cx="986.0" cy="2337.8" r="5.2"/>
<circle cx="989.3" cy="2337.8" r="5.2"/>
<circle cx="992.6" cy="2337.8" r="5.2"/>
<circle cx="995.9" cy="2337.8" r="5.2"/>
<circle cx="999.3" cy="2337.8" r="5.2"/>
<circle cx="1002.6" cy="2337.8" r="5.2"/>
<circle cx="1005.9" cy="2337.8" r="5.2"/>
<circle cx="1009.2" cy="2337.8" r="5.2"/>
<circle cx="1012.5" cy="2337.8" r="5.2"/>
<circle cx="1015.8" cy="2337.8" r="5.2"/>
<circle cx="1019.1" cy="2337.8" r="5.2"/>
<circle cx="1022.4" cy="2337.8" r="5.2"/>
<circle cx="1025.8" cy="2337.8" r="5.2"/>
<circle cx="1029.1" cy="2337.8" r="5.2"/>
<circle cx="1032.4" cy="2337.8" r="5.2"/>
<circle cx="1035.7" cy="2337.8" r="5.2"/>
<circle cx="1045.3" cy="2337.8" r="5.2"/>
<circle cx="1049.9" cy="2337.8" r="5.2"/>
<circle cx="1054.9" cy="2337.8" r="5.2"/>
<circle cx="1078.8" cy="2337.8" r="5.2"/>
<circle cx="1091.1" cy="2337.8" r="5.2"/>
<clipPath id="c3"><rect x="984.60" y="1916.50" width="473.60" height="494.50"/></clipPath>
<g clip-path="url(#c3)">
<line x1="984.60" y1="2362.60" x2="1411.30" y2="1955.40" stroke="#000" stroke-width="3.5" stroke-linecap="round"/>
<polyline points="984.6,2354.6 991.7,2348.1 998.8,2341.5 1005.9,2335.0 1013.0,2328.5 1020.2,2321.9 1027.3,2315.3 1034.4,2308.8 1041.5,2302.2 1048.6,2295.6 1055.7,2288.9 1062.8,2282.3 1069.9,2275.6 1077.1,2269.0 1084.2,2262.3 1091.3,2255.5 1098.4,2248.8 1105.5,2242.0 1112.6,2235.2 1119.7,2228.4 1126.8,2221.6 1133.9,2214.7 1141.1,2207.8 1148.2,2200.9 1155.3,2194.0 1162.4,2187.1 1169.5,2180.1 1176.6,2173.2 1183.7,2166.2 1190.8,2159.2 1198.0,2152.2 1205.1,2145.1 1212.2,2138.1 1219.3,2131.1 1226.4,2124.0 1233.5,2117.0 1240.6,2109.9 1247.7,2102.9 1254.8,2095.8 1262.0,2088.7 1269.1,2081.6 1276.2,2074.6 1283.3,2067.5 1290.4,2060.4 1297.5,2053.3 1304.6,2046.2 1311.7,2039.1 1318.8,2032.0 1326.0,2024.9 1333.1,2017.8 1340.2,2010.7 1347.3,2003.6 1354.4,1996.5 1361.5,1989.4 1368.6,1982.3 1375.7,1975.1 1382.9,1968.0 1390.0,1960.9 1397.1,1953.8 1404.2,1946.7 1411.3,1939.6" fill="none" stroke="#000" stroke-width="1.6" stroke-dasharray="5.7 2.8"/>
<polyline points="984.6,2370.6 991.7,2363.6 998.8,2356.5 1005.9,2349.5 1013.0,2342.4 1020.2,2335.4 1027.3,2328.4 1034.4,2321.4 1041.5,2314.5 1048.6,2307.5 1055.7,2300.5 1062.8,2293.6 1069.9,2286.7 1077.1,2279.8 1084.2,2272.9 1091.3,2266.1 1098.4,2259.2 1105.5,2252.4 1112.6,2245.6 1119.7,2238.9 1126.8,2232.1 1133.9,2225.4 1141.1,2218.7 1148.2,2212.1 1155.3,2205.4 1162.4,2198.8 1169.5,2192.2 1176.6,2185.6 1183.7,2179.0 1190.8,2172.4 1198.0,2165.8 1205.1,2159.3 1212.2,2152.7 1219.3,2146.2 1226.4,2139.7 1233.5,2133.1 1240.6,2126.6 1247.7,2120.1 1254.8,2113.6 1262.0,2107.1 1269.1,2100.6 1276.2,2094.1 1283.3,2087.6 1290.4,2081.2 1297.5,2074.7 1304.6,2068.2 1311.7,2061.7 1318.8,2055.2 1326.0,2048.8 1333.1,2042.3 1340.2,2035.8 1347.3,2029.4 1354.4,2022.9 1361.5,2016.4 1368.6,2010.0 1375.7,2003.5 1382.9,1997.1 1390.0,1990.6 1397.1,1984.1 1404.2,1977.7 1411.3,1971.2" fill="none" stroke="#000" stroke-width="1.6" stroke-dasharray="5.7 2.8"/>
</g>
</g>
</svg>
</body></html>
